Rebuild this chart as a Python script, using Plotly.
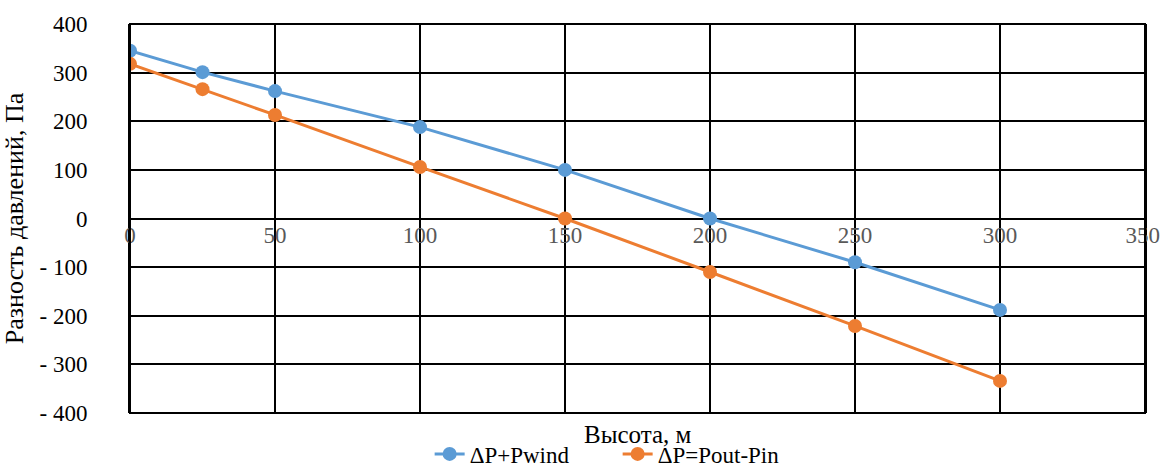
import plotly.graph_objects as go

heights = [0, 25, 50, 100, 150, 200, 250, 300]
dp_wind = [345, 301, 262, 188, 100, 0, -90, -188]
dp_base = [318, 266, 213, 106, 0, -110, -221, -334]

y_ticks = [-400, -300, -200, -100, 0, 100, 200, 300, 400]
y_ticktext = ["- 400", "- 300", "- 200", "- 100", "0", "100", "200", "300", "400"]
x_ticks = [0, 50, 100, 150, 200, 250, 300, 350]
x_ticktext = ["0", "50", "100", "150", "200", "250", "300", "350\u2009"]

name_wind = "ΔP+Pwind"
name_base = "ΔP=Pout-Pin"
x_title = "Высота, м"
y_title = "Разность давлений, Па"

font_family = "Liberation Serif, Times New Roman, serif"

fig = go.Figure()
fig.add_trace(go.Scatter(x=heights, y=dp_wind, mode="lines+markers", name=name_wind,
                         line=dict(color="#5B9BD5", width=3),
                         marker=dict(color="#5B9BD5", size=14)))
fig.add_trace(go.Scatter(x=heights, y=dp_base, mode="lines+markers", name=name_base,
                         line=dict(color="#ED7D31", width=3),
                         marker=dict(color="#ED7D31", size=14)))

fig.update_layout(
    width=1161, height=468,
    margin=dict(l=130, r=16, t=24, b=55),
    paper_bgcolor="white", plot_bgcolor="white",
    font=dict(family=font_family, size=23, color="black"),
    showlegend=True,
    legend=dict(orientation="h", xref="container", yref="container",
                x=0.532, xanchor="center", y=0.03, yanchor="middle",
                font=dict(size=23, color="black", family=font_family),
                entrywidth=143, entrywidthmode="pixels",
                tracegroupgap=0, bgcolor="rgba(0,0,0,0)"),
    xaxis=dict(range=[0, 350], tickvals=x_ticks, ticktext=x_ticktext, showgrid=True,
               gridcolor="black", gridwidth=1.5, zeroline=False, showline=False,
               automargin=False, anchor="free", position=0.5, ticks="",
               ticklabeloverflow="allow",
               tickfont=dict(size=23, color="#595959", family=font_family)),
    yaxis=dict(range=[-400, 400], tickvals=y_ticks, ticktext=y_ticktext, showgrid=True,
               gridcolor="black", gridwidth=1.5, zeroline=False, showline=True,
               mirror=True, linecolor="black", linewidth=2, ticks="", automargin=False,
               ticklabelstandoff=36,
               title=dict(text=y_title, font=dict(size=26, family=font_family), standoff=8),
               tickfont=dict(size=23, color="black", family=font_family)),
    shapes=[dict(type="rect", xref="paper", yref="paper", x0=0, x1=1, y0=0, y1=1,
                 line=dict(color="black", width=2), fillcolor="rgba(0,0,0,0)",
                 layer="above")],
    annotations=[dict(text=x_title, xref="paper", yref="paper", x=0.5, y=-0.015,
                      xanchor="center", yanchor="top", showarrow=False,
                      font=dict(size=25, color="black", family=font_family))],
)

fig.write_html("out.html", config={"displayModeBar": False})

with open("out.html", "r", encoding="utf-8") as f:
    html = f.read()
html = html.replace("<body>", '<body style="margin:0;overflow:hidden;">', 1)
with open("out.html", "w", encoding="utf-8") as f:
    f.write(html)
